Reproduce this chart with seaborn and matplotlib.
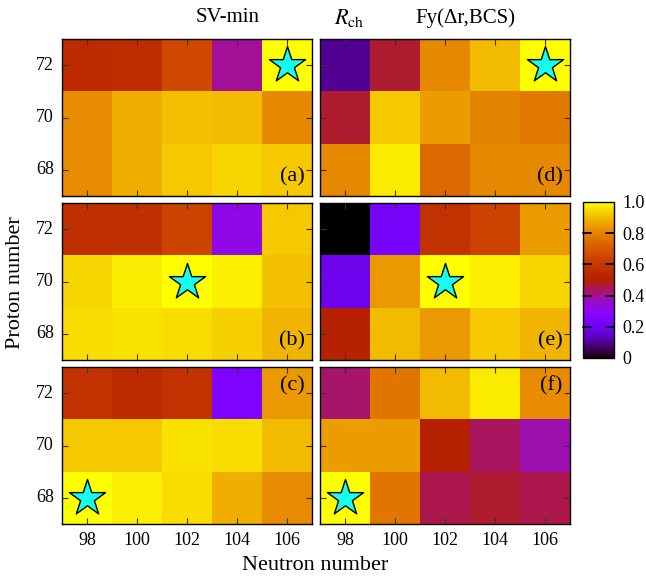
import numpy as np
import pandas as pd
import matplotlib
matplotlib.use("Agg")
import matplotlib.pyplot as plt
import seaborn as sns

# --- data -------------------------------------------------------------
neutrons = [98, 100, 102, 104, 106]
protons = [72, 70, 68]  # top row first

# SV-min (left column)
sv_a = [[0.55, 0.56, 0.66, 0.40, 1.00],
        [0.82, 0.88, 0.91, 0.90, 0.81],
        [0.82, 0.88, 0.92, 0.94, 0.92]]
sv_b = [[0.57, 0.57, 0.64, 0.32, 0.92],
        [0.94, 0.97, 1.00, 0.98, 0.91],
        [0.95, 0.96, 0.95, 0.93, 0.89]]
sv_c = [[0.58, 0.55, 0.58, 0.24, 0.84],
        [0.92, 0.92, 0.96, 0.95, 0.90],
        [1.00, 0.98, 0.95, 0.88, 0.82]]

# Fy(dr,BCS) (right column)
fy_d = [[0.10, 0.47, 0.81, 0.90, 1.00],
        [0.47, 0.92, 0.85, 0.80, 0.78],
        [0.81, 0.97, 0.74, 0.81, 0.81]]
fy_e = [[0.00, 0.22, 0.58, 0.64, 0.85],
        [0.19, 0.84, 1.00, 0.98, 0.94],
        [0.51, 0.90, 0.84, 0.92, 0.89]]
fy_f = [[0.43, 0.77, 0.90, 0.97, 0.82],
        [0.85, 0.85, 0.50, 0.44, 0.38],
        [1.00, 0.77, 0.45, 0.47, 0.45]]

# reference nucleus (N, Z) marked by a star in each row of panels
stars = [(106, 72), (102, 70), (98, 68)]

cbar_ticks = [0, 0.2, 0.4, 0.6, 0.8, 1.0]
cbar_labels = ["0", "0.2", "0.4", "0.6", "0.8", "1.0"]

panels = [[sv_a, fy_d], [sv_b, fy_e], [sv_c, fy_f]]
letters = [["(a)", "(d)"], ["(b)", "(e)"], ["(c)", "(f)"]]

# --- style ------------------------------------------------------------
sns.set_style("ticks")
plt.rcParams["font.family"] = ["Liberation Serif", "DejaVu Serif"]
plt.rcParams["mathtext.fontset"] = "stix"
plt.rcParams["text.color"] = "black"
plt.rcParams["xtick.color"] = "black"
plt.rcParams["ytick.color"] = "black"
plt.rcParams["axes.axisbelow"] = False  # ticks drawn over the cells

W, H = 646, 578
fig = plt.figure(figsize=(W / 100, H / 100), dpi=100)

lefts = [62 / W, 320 / W]
pw = 250 / W
bottoms = [1 - 196 / H, 1 - 360 / H, 1 - 524 / H]
ph = 157 / H

for r in range(3):
    for c in range(2):
        ax = fig.add_axes([lefts[c], bottoms[r], pw, ph])
        df = pd.DataFrame(panels[r][c], index=protons, columns=neutrons)
        sns.heatmap(df, ax=ax, cmap="gnuplot", vmin=0, vmax=1, cbar=False)
        ax.set_axisbelow(False)
        for s in ax.spines.values():
            s.set_visible(True)
            s.set_color("black")
            s.set_linewidth(1.0)
        ax.tick_params(direction="in", length=4, width=0.8, color="#333333",
                       top=True, right=True, bottom=True, left=True,
                       labelsize=13, pad=6, labelcolor="black")
        ax.set_xlabel("")
        ax.set_ylabel("")
        if c == 0:
            ax.set_yticklabels([str(p) for p in protons], rotation=0)
        else:
            ax.set_yticklabels([])
        if r == 2:
            ax.set_xticklabels([str(n) for n in neutrons], rotation=0)
        else:
            ax.set_xticklabels([])

        sn, sz = stars[r]
        ax.scatter(neutrons.index(sn) + 0.5, protons.index(sz) + 0.5,
                   marker="*", s=750, c="#14fff0", edgecolors="black",
                   linewidths=1.0, zorder=5)

        if r < 2:
            ax.text(0.97, 0.06, letters[r][c], transform=ax.transAxes,
                    ha="right", va="bottom", fontsize=16)
        else:
            ax.text(0.97, 0.94, letters[r][c], transform=ax.transAxes,
                    ha="right", va="top", fontsize=16)

# colorbar
cax = fig.add_axes([583 / W, 1 - 358 / H, 31 / W, 156 / H])
sm = matplotlib.cm.ScalarMappable(cmap="gnuplot",
                                  norm=matplotlib.colors.Normalize(0, 1))
cb = fig.colorbar(sm, cax=cax, ticks=cbar_ticks)
cb.ax.set_yticklabels(cbar_labels)
cb.outline.set_edgecolor("black")
cb.outline.set_linewidth(1.0)
cb.solids.set_zorder(0.1)
cax.tick_params(length=0, labelsize=13, pad=6, labelcolor="black")
# gnuplot-style inward ticks on both sides of the colour box
ytr = cax.get_yaxis_transform()
for t in cbar_ticks[1:-1]:
    cax.plot([0, 0.25], [t, t], transform=ytr, color="black", lw=1.3,
             clip_on=False, zorder=10)
    cax.plot([0.75, 1], [t, t], transform=ytr, color="black", lw=1.3,
             clip_on=False, zorder=10)

# titles and axis labels
fig.text(228 / W, 1 - 18 / H, "SV-min", ha="center", va="center", fontsize=15)
fig.text(349 / W, 1 - 18 / H, r"$R_{\rm ch}$", ha="center", va="center",
         fontsize=16)
fig.text(465 / W, 1 - 18 / H, "Fy(\u0394r,BCS)", ha="center", va="center",
         fontsize=15)
fig.text(315 / W, 1 - 566 / H, "Neutron number", ha="center", va="center",
         fontsize=16)
fig.text(16 / W, 1 - 283 / H, "Proton number", ha="center", va="center",
         rotation=90, fontsize=16)

fig.savefig("out.png", dpi=100)
